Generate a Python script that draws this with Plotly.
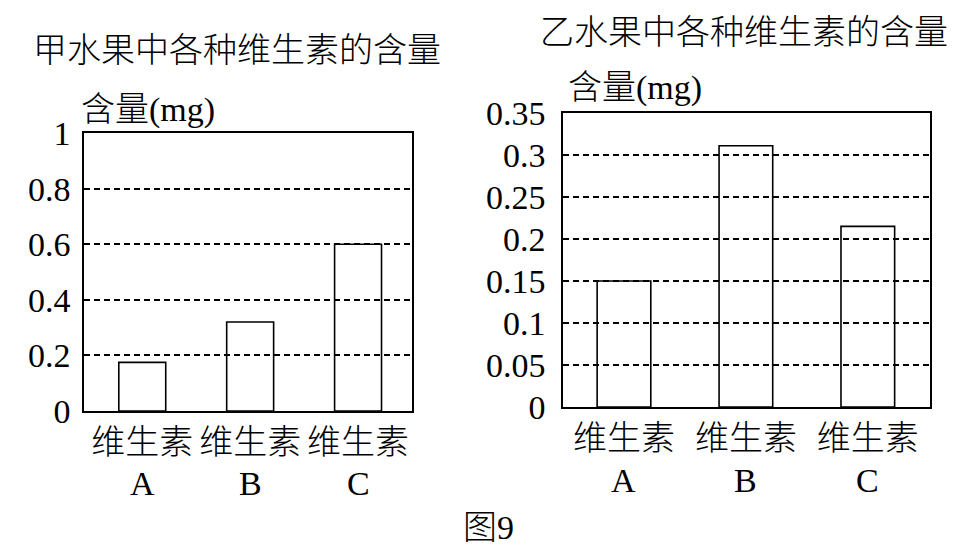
import plotly.graph_objects as go

# ---- data ----
categories = ["A", "B", "C"]
cat_prefix = "维生素"
jia_values = [0.175, 0.32, 0.60]
yi_values = [0.15, 0.311, 0.215]
jia_ticks = [0, 0.2, 0.4, 0.6, 0.8, 1]
jia_ticklabels = ["0", "0.2", "0.4", "0.6", "0.8", "1"]
yi_ticks = [0, 0.05, 0.1, 0.15, 0.2, 0.25, 0.3, 0.35]
yi_ticklabels = ["0", "0.05", "0.1", "0.15", "0.2", "0.25", "0.3", "0.35"]
title_jia = "甲水果中各种维生素的含量"
title_yi = "乙水果中各种维生素的含量"
y_label = "含量(mg)"
caption = "图9"

FONT = "Liberation Serif, Noto Sans CJK SC, serif"
FS = 34
WEIGHT = 300
OFF = 8                      # page body margin
W, H = 973 - OFF, 554 - OFF

def font(size=FS):
    return dict(family=FONT, size=size, color="black", weight=WEIGHT)

fig = go.Figure()
bar_style = dict(marker=dict(color="rgba(0,0,0,0)", line=dict(color="black", width=1.6)),
                 showlegend=False, hoverinfo="skip")
fig.add_trace(go.Bar(x=categories, y=jia_values, width=0.435, xaxis="x", yaxis="y", **bar_style))
fig.add_trace(go.Bar(x=categories, y=yi_values, width=0.44, xaxis="x2", yaxis="y2", **bar_style))

def xaxis(domain, rng, anchor):
    return dict(domain=domain, range=rng, anchor=anchor, type="category",
                tickvals=categories, ticktext=[cat_prefix] * len(categories),
                showline=True, mirror=True, linecolor="black", linewidth=1.6,
                ticks="", showgrid=False, zeroline=False, automargin=False,
                tickfont=font(), ticklabelstandoff=0)

def yaxis(domain, rng, anchor, tv, tt, standoff):
    return dict(domain=domain, range=rng, anchor=anchor,
                tickvals=tv, ticktext=tt,
                showline=True, mirror=True, linecolor="black", linewidth=1.6,
                ticks="", showgrid=True, gridcolor="black", gridwidth=1.5,
                griddash="6px,4px", zeroline=False, automargin=False,
                tickfont=font(), ticklabelstandoff=standoff)

px = lambda v: (v - OFF) / W
py = lambda v: 1 - (v - OFF) / H

fig.update_layout(
    template="none",
    width=W, height=H,
    margin=dict(l=0, r=0, t=0, b=0, pad=0),
    paper_bgcolor="white", plot_bgcolor="white",
    showlegend=False,
    xaxis=xaxis([px(84), px(412)], [-0.54, 2.5], "y"),
    yaxis=yaxis([py(411), py(133)], [0, 1], "x", jia_ticks, jia_ticklabels, 5),
    xaxis2=xaxis([px(563), px(930)], [-0.5, 2.51], "y2"),
    yaxis2=yaxis([py(407), py(113)], [0, 0.35], "x2", yi_ticks, yi_ticklabels, 9),
)

def ann(text, x, y, xanchor="center"):
    return dict(text=text, x=px(x), y=py(y), xref="paper", yref="paper",
                xanchor=xanchor, yanchor="middle", showarrow=False, font=font())

annotations = [
    ann(title_jia, 237, 51),
    ann(title_yi, 744, 33),
    ann(y_label, 79, 110, xanchor="left"),
    ann(y_label, 566, 88, xanchor="left"),
    ann(caption, 488, 527),
]
for c in categories:
    annotations.append(dict(text=c, x=c, xref="x", y=py(483), yref="paper",
                            yanchor="middle", showarrow=False, font=font()))
    annotations.append(dict(text=c, x=c, xref="x2", y=py(480), yref="paper",
                            yanchor="middle", showarrow=False, font=font()))
fig.update_layout(annotations=annotations)

fig.write_html("out.html")
